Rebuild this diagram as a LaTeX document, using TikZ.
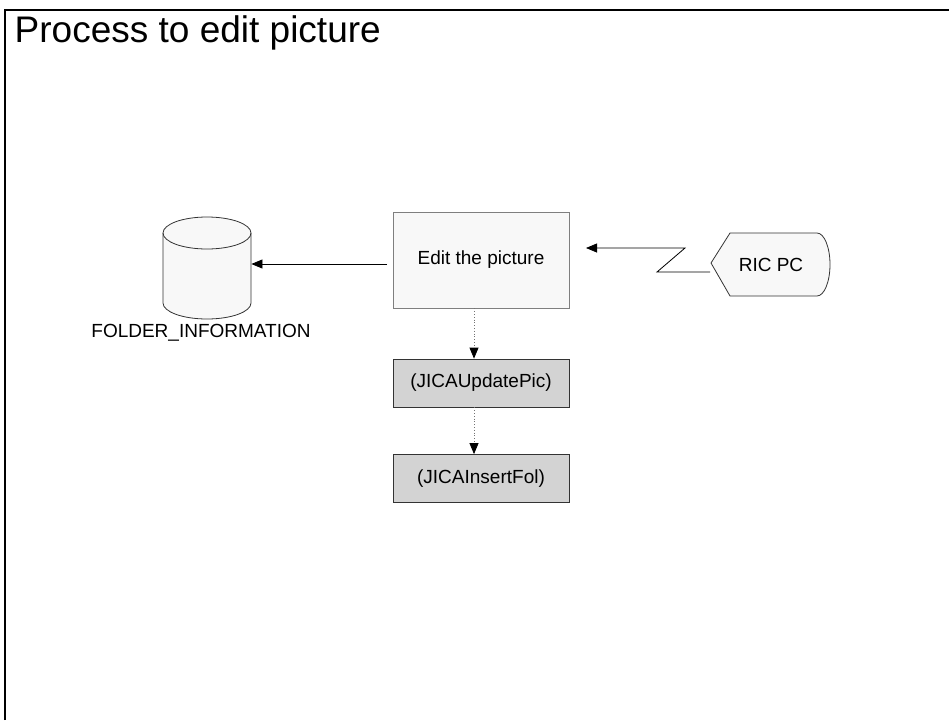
\documentclass[tikz,border=0pt]{standalone}
\usepackage{fontspec}
\setmainfont{Liberation Sans}
\usepackage{tikz}
\usetikzlibrary{arrows.meta}
\definecolor{boxfill}{HTML}{F8F8F8}
\definecolor{procfill}{HTML}{D3D3D3}
\definecolor{boxedge}{HTML}{7F7F7F}
\tikzset{procbox/.style={draw=black!80,fill=procfill,minimum width=176pt,minimum height=48pt,font=\fontsize{19}{22}\selectfont},
	flowdot/.style={dotted,draw=black!55,-{Triangle[length=11pt,width=9pt,black]}}}

\begin{document}
\begin{tikzpicture}[x=1pt,y=-1pt,>={Triangle[length=11pt,width=9pt]},line width=0.8pt]
				\useasboundingbox (0,0) rectangle (949,720);
				\draw[line width=2.5pt] (5,720) -- (5,10) -- (949,10);
				\node[anchor=base west,font=\fontsize{37}{40}\selectfont] (title) at (11,42) {Process to edit picture};
				% main step
				\node[draw=boxedge,fill=boxfill,minimum width=176pt,minimum height=96pt,font=\fontsize{19}{22}\selectfont] (edit) at (481,260) {Edit the picture};
				\node[procbox] (upd) at (481,383) {(JICAUpdatePic)};
				\node[procbox] (ins) at (481,478.5) {(JICAInsertFol)};
				% database
				\node[minimum width=88pt,minimum height=102pt,inner sep=0pt] (db) at (207,268) {};
				\draw[draw=black!80,fill=boxfill] (163,233) -- (163,303) arc[start angle=180,end angle=360,x radius=44pt,y radius=16pt] -- (251,233) arc[start angle=0,end angle=180,x radius=44pt,y radius=16pt] -- cycle;
				\draw[draw=black!80] (163,233) arc[start angle=180,end angle=360,x radius=44pt,y radius=16pt];
				\node[font=\fontsize{19}{22}\selectfont] (dblabel) at (201,333) {FOLDER\_INFORMATION};
				% display RIC PC
				\draw[draw=black!80,fill=boxfill] (711,263) -- (730,233) -- (817,233) arc[start angle=90,end angle=-90,x radius=13pt,y radius=31.5pt] -- (730,296) -- cycle;
				\node[font=\fontsize{19}{22}\selectfont] (ric) at (771,265) {RIC PC};
				\coordinate (ricin) at (710,272);
				\coordinate (edite) at (586,248);
				\coordinate (editw) at (387,264);
				\draw[->] (ricin) -- (657,272) -- (685,248) -- (edite);
				\draw[->] (editw) -- (db.east |- editw);
				\draw[flowdot] ([xshift=-7pt]edit.south) -- ([xshift=-7pt]upd.north);
				\draw[flowdot] ([xshift=-7pt]upd.south) -- ([xshift=-7pt]ins.north);
			\end{tikzpicture}
\end{document}
